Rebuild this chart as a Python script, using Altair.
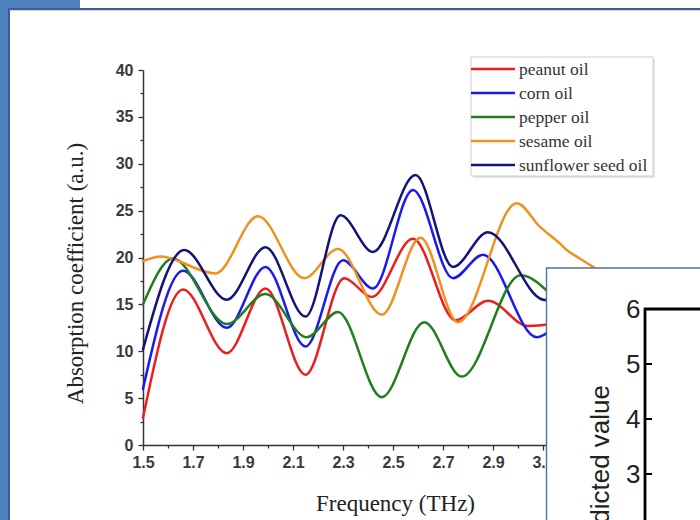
import altair as alt
import pandas as pd

# ---------------- data ----------------
series = ["peanut oil", "corn oil", "pepper oil", "sesame oil", "sunflower seed oil"]
colors = ["#ee1c1c", "#1a1af0", "#1f7f1f", "#f0901e", "#12127a"]

peanut_f = [1.5, 1.66, 1.835, 1.99, 2.15, 2.305, 2.415, 2.58, 2.75, 2.88, 3.04, 3.14]
peanut_v = [2.9, 16.6, 9.8, 16.7, 7.5, 17.8, 15.8, 22.0, 13.3, 15.4, 12.7, 12.9]

corn_f = [1.5, 1.66, 1.835, 1.99, 2.15, 2.30, 2.42, 2.58, 2.74, 2.86, 3.075, 3.14]
corn_v = [6.0, 18.6, 12.5, 19.0, 10.5, 19.7, 16.7, 27.2, 17.8, 20.3, 11.5, 12.4]

pepper_f = [1.5, 1.62, 1.835, 1.99, 2.155, 2.28, 2.455, 2.625, 2.775, 3.01, 3.14]
pepper_v = [15.0, 19.9, 12.9, 16.1, 11.5, 14.2, 5.1, 13.1, 7.3, 18.1, 15.8]

sesame_f = [1.5, 1.57, 1.79, 1.96, 2.145, 2.28, 2.455, 2.61, 2.76, 2.995, 3.087, 3.167, 3.195, 3.247, 3.30, 3.38]
sesame_v = [19.6, 20.1, 18.3, 24.4, 17.8, 20.9, 13.9, 22.1, 13.1, 25.8, 23.3, 21.5, 20.8, 19.9, 19.0, 17.6]

sunflower_f = [1.5, 1.665, 1.835, 1.99, 2.15, 2.29, 2.42, 2.59, 2.74, 2.88, 3.10, 3.14]
sunflower_v = [10.2, 20.8, 15.5, 21.1, 13.7, 24.5, 20.6, 28.8, 19.0, 22.7, 15.5, 15.4]

x_ticks = [1.5, 1.6, 1.7, 1.8, 1.9, 2.0, 2.1, 2.2, 2.3, 2.4, 2.5, 2.6, 2.7,
           2.8, 2.9, 3.0, 3.1, 3.2, 3.3, 3.4, 3.5]
y_ticks = [0, 2.5, 5, 7.5, 10, 12.5, 15, 17.5, 20, 22.5, 25, 27.5, 30, 32.5, 35, 37.5, 40]
inset_ticks = [2, 3, 4, 5, 6]

rows = []
for name, fs, vs in zip(series,
                        [peanut_f, corn_f, pepper_f, sesame_f, sunflower_f],
                        [peanut_v, corn_v, pepper_v, sesame_v, sunflower_v]):
    for f, v in zip(fs, vs):
        rows.append({"series": name, "freq": f, "value": v})
df = pd.DataFrame(rows)
legend_df = pd.DataFrame({"series": series})
inset_df = pd.DataFrame({"tick": inset_ticks})
dummy = pd.DataFrame({"k": [0]})

SANS = "Liberation Sans"
SERIF = "Liberation Serif"

color_scale = alt.Scale(domain=series, range=colors)


def rect(x1, x2, y1, y2, **kw):
    return alt.Chart(dummy).mark_rect(**kw).encode(
        x=alt.value(x1), x2=alt.value(x2), y=alt.value(y1), y2=alt.value(y2))


def rule(x1, x2, y1, y2, **kw):
    return alt.Chart(dummy).mark_rule(**kw).encode(
        x=alt.value(x1), x2=alt.value(x2), y=alt.value(y1), y2=alt.value(y2))


# ---------------- slide frame ----------------
frame = alt.layer(
    rect(-143, -63, -70, -62, color="#4f81bd"),
    rect(-143, -135, -70, 460, color="#4f81bd"),
    rect(-135, 560, -62, -60, color="#3a5f92"),
    rect(-135, -133, -62, 460, color="#3a5f92"),
    rect(-133, 560, -60, -59, color="#d8d8d8"),
)

# ---------------- main chart ----------------
lines = alt.Chart(df).mark_line(interpolate="monotone", strokeWidth=2.5, strokeCap="round").encode(
    x=alt.X("freq:Q",
            scale=alt.Scale(domain=[1.5, 3.5], nice=False, zero=False),
            axis=alt.Axis(values=x_ticks,
                          labelExpr="(round(datum.value*10)%2==1 && datum.value < 3.15) ? datum.label : ''",
                          tickSize={"condition": {"test": "round(datum.value*10)%2==1", "value": 5}, "value": 3},
                          title="Frequency (THz)", titleFont=SERIF, titleFontSize=23,
                          titleFontWeight="normal", titleColor="#222",
                          titleX=252, titleY=58, titleBaseline="middle", titleAlign="center",
                          labelFont=SANS, labelFontSize=16, labelFontWeight="bold",
                          labelColor="#3a3a3a", labelPadding=4,
                          labelOverlap=False, labelFlush=False,
                          domainColor="#333", domainWidth=1.5, tickColor="#333", tickWidth=1.3,
                          grid=False)),
    y=alt.Y("value:Q",
            scale=alt.Scale(domain=[0, 40], nice=False),
            axis=alt.Axis(values=y_ticks,
                          labelExpr="datum.value % 5 == 0 ? datum.label : ''",
                          tickSize={"condition": {"test": "datum.value % 5 == 0", "value": 5}, "value": 3},
                          title="Absorption coefficient (a.u.)", titleFont=SERIF, titleFontSize=23,
                          titleFontWeight="normal", titleColor="#222",
                          titleX=-68, titleY=203, titleAngle=270, titleBaseline="middle", titleAlign="center",
                          labelFont=SANS, labelFontSize=16, labelFontWeight="bold",
                          labelColor="#3a3a3a", labelPadding=5,
                          labelOverlap=False,
                          domainColor="#333", domainWidth=1.5, tickColor="#333", tickWidth=1.3,
                          grid=False)),
    color=alt.Color("series:N", scale=color_scale, legend=None),
)

# ---------------- legend ----------------
legend_y = alt.Y("series:N", sort=series,
                 scale=alt.Scale(type="point", domain=series, range=[-1, 95], padding=0),
                 axis=None)
legend_box = alt.layer(
    rect(330, 512, -11, 108, color="#e4e4e4"),
    rect(328, 510, -13, 106, fill="white", stroke="#cfcfcf", strokeWidth=1),
)
legend_lines = alt.Chart(legend_df).mark_rule(strokeWidth=2.5).encode(
    x=alt.value(328), x2=alt.value(372), y=legend_y,
    color=alt.Color("series:N", scale=color_scale, legend=None))
legend_text = alt.Chart(legend_df).mark_text(
    align="left", baseline="middle", font=SERIF, fontSize=17.5, color="#333", dy=1).encode(
    x=alt.value(376), y=legend_y, text="series:N")

# ---------------- inset (overlapping second chart) ----------------
inset_y = alt.Y("tick:Q", scale=alt.Scale(domain=[2, 6], range=[459, 239], nice=False, zero=False),
                axis=None)
inset_box = rect(403.5, 570, 198, 470, fill="white", stroke="#4f70a3", strokeWidth=1.4)
inset_axes = alt.layer(
    rule(502, 502, 238, 470, color="black", strokeWidth=2.8),
    rule(501, 570, 239, 239, color="black", strokeWidth=2.8),
)
inset_tickmarks = alt.Chart(inset_df).mark_rule(color="black", strokeWidth=2).encode(
    x=alt.value(502), x2=alt.value(509), y=inset_y)
inset_labels = alt.Chart(inset_df).mark_text(
    align="right", baseline="middle", font=SANS, fontSize=26, color="#222", dy=1).encode(
    x=alt.value(497.5), y=inset_y, text="tick:Q")
inset_title = alt.Chart(dummy).mark_text(
    align="right", baseline="middle", angle=270, font=SANS, fontSize=26, color="#222").encode(
    x=alt.value(458), y=alt.value(315), text=alt.value("Predicted value"))

chart = alt.layer(
    frame, lines, legend_box, legend_lines, legend_text,
    inset_box, inset_axes, inset_tickmarks, inset_labels, inset_title,
).resolve_scale(y="independent").properties(
    width=500, height=375,
    padding={"left": 143, "top": 70, "right": 57, "bottom": 75},
    autosize=alt.AutoSizeParams(type="none"),
    background="white",
).configure_view(stroke=None)

chart.save("out.html", embed_options={"renderer": "svg", "actions": False})
